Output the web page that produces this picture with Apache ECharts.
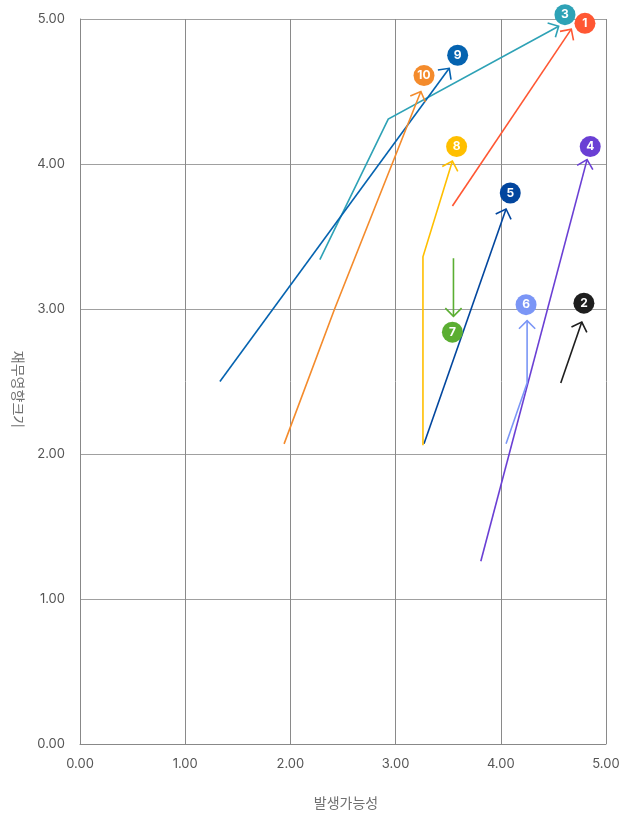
<!DOCTYPE html>
<html>
<head>
<meta charset="utf-8">
<script src="https://cdn.jsdelivr.net/npm/echarts@6/dist/echarts.min.js"></script>
<style>
html,body{margin:0;padding:0;background:#fff;}
#chart{width:620px;height:814px;}
</style>
</head>
<body>
<div id="chart"></div>
<script>
// ---- data ----
const ids = ['1','2','3','4','5','6','7','8','9','10'];
const colors = ['#FF5733','#1E1E1E','#2EA2B6','#6A3FD4','#02469E','#7B96F6','#5BAE32','#FFBF00','#0563B0','#F48B2C'];
const path1 = [[3.54,3.71],[4.67,4.93]];
const path2 = [[4.57,2.49],[4.77,2.91]];
const path3 = [[2.28,3.34],[2.93,4.31],[4.55,4.95]];
const path4 = [[3.81,1.26],[4.82,4.03]];
const path5 = [[3.27,2.07],[4.05,3.69]];
const path6 = [[4.05,2.07],[4.25,2.49],[4.25,2.92]];
const path7 = [[3.55,3.35],[3.55,2.95]];
const path8 = [[3.26,2.06],[3.26,3.36],[3.54,4.02]];
const path9 = [[1.33,2.50],[3.51,4.66]];
const path10 = [[1.94,2.07],[2.42,3.00],[3.24,4.50]];
const paths = [path1,path2,path3,path4,path5,path6,path7,path8,path9,path10];
const labelX = [4.80,4.79,4.61,4.85,4.09,4.24,3.54,3.58,3.59,3.27];
const labelY = [4.97,3.04,5.03,4.12,3.80,3.03,2.84,4.12,4.75,4.61];
const xTicks = [0,1,2,3,4,5];
const yTicks = [0,1,2,3,4,5];
const xName = '발생가능성';
const yName = '재무영향크기';

const FONT = 'Inter, "Noto Sans CJK KR", sans-serif';
const chart = echarts.init(document.getElementById('chart'), null, {renderer:'canvas'});

const arrowData = paths.map((p,i)=>{ const e=p[p.length-1]; return [e[0], e[1], i]; });
const labelData = [];
for (let i = ids.length-1; i >= 0; i--) {
  labelData.push({value:[labelX[i], labelY[i]], name:ids[i], itemStyle:{color:colors[i], opacity:1}});
}

function renderArrow(params, api) {
  const i = api.value(2);
  const pts = paths[i].map(pt => api.coord(pt));
  const tip = pts[pts.length-1], prev = pts[pts.length-2];
  const dx = prev[0]-tip[0], dy = prev[1]-tip[1];
  const len = Math.sqrt(dx*dx+dy*dy);
  const ux = dx/len, uy = dy/len;
  const L = 11.5, a = Math.PI/4;
  const c = Math.cos(a), s = Math.sin(a);
  const p1 = [tip[0] + L*(ux*c - uy*s), tip[1] + L*(ux*s + uy*c)];
  const p2 = [tip[0] + L*(ux*c + uy*s), tip[1] + L*(-ux*s + uy*c)];
  const st = {stroke: colors[i], lineWidth: 1.6, fill: null};
  return {
    type:'group',
    children:[
      {type:'polyline', shape:{points:pts}, style:st},
      {type:'polyline', shape:{points:[p1, tip, p2]}, style:st}
    ]
  };
}

chart.setOption({
  animation:false,
  backgroundColor:'#fff',
  grid:{left:80, right:14, top:19, bottom:70, containLabel:false, outerBoundsMode:'none'},
  xAxis:{
    type:'value', min:0, max:5, interval:1,
    name:xName, nameLocation:'middle', nameGap:53,
    nameTextStyle:{color:'#707070', fontSize:14, fontFamily:FONT, padding:[0,0,0,6]},
    axisLine:{show:true, onZero:false, lineStyle:{color:'#888', width:1}},
    axisTick:{show:false},
    axisLabel:{color:'#555', fontSize:13, fontFamily:FONT, margin:14,
      formatter:v=>xTicks.includes(v)?v.toFixed(2):''},
    splitLine:{show:true, lineStyle:{color:'#8a8a8a', width:1}}
  },
  yAxis:{
    type:'value', min:0, max:5, interval:1,
    name:yName, nameLocation:'middle', nameGap:56, nameRotate:-90,
    nameTextStyle:{color:'#707070', fontSize:14, fontFamily:FONT, padding:[0,0,0,16]},
    axisLine:{show:true, onZero:false, lineStyle:{color:'#888', width:1}},
    axisTick:{show:false},
    axisLabel:{color:'#555', fontSize:13, fontFamily:FONT, margin:15,
      formatter:v=>yTicks.includes(v)?v.toFixed(2):''},
    splitLine:{show:true, lineStyle:{color:'#a0a0a0', width:1.2}}
  },
  series:[
    {
      type:'custom',
      renderItem:renderArrow,
      data:arrowData,
      clip:false,
      z:2
    },
    {
      type:'scatter',
      data:labelData,
      symbol:'circle',
      symbolSize:21,
      clip:false,
      z:5,
      itemStyle:{opacity:1},
      label:{show:true, position:'inside', formatter:p=>p.name, color:'#fff',
        fontSize:12, fontWeight:'bold', fontFamily:FONT}
    }
  ]
});
</script>
</body>
</html>
